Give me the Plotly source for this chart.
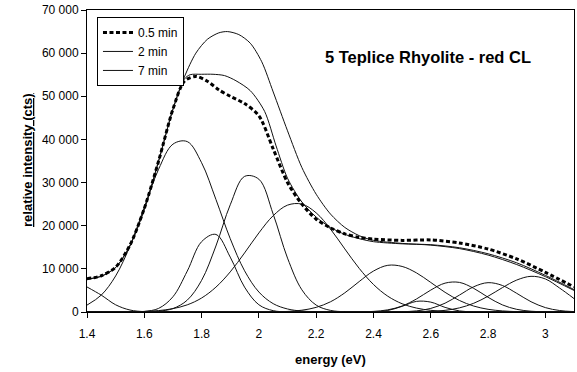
import plotly.graph_objects as go

# ---------------- data ----------------
energy_grid = [1.40, 1.45, 1.50, 1.55, 1.60, 1.65, 1.70, 1.75, 1.80, 1.85,
               1.90, 1.95, 2.00, 2.05, 2.10, 2.15, 2.20, 2.25, 2.30, 2.35,
               2.40, 2.45, 2.50, 2.55, 2.60, 2.65, 2.70, 2.75, 2.80, 2.85,
               2.90, 2.95, 3.00, 3.05, 3.10]

# measured spectra
e_05min = [1.40, 1.45, 1.50, 1.55, 1.60, 1.65, 1.70, 1.74, 1.78, 1.82, 1.86, 1.90,
           1.95, 2.00, 2.05, 2.10, 2.15, 2.20, 2.25, 2.30, 2.35, 2.40, 2.50, 2.60,
           2.70, 2.80, 2.90, 3.00, 3.10]
i_05min = [7700, 8400, 10400, 15500, 24000, 35000, 47000, 53500, 54600, 53500, 51500, 50000,
           48300, 45500, 37800, 30000, 25000, 21500, 19500, 18100, 17300, 16900, 16600, 16700,
           16000, 14600, 12300, 9200, 5800]

e_2min = [1.40, 1.45, 1.50, 1.55, 1.60, 1.65, 1.70, 1.74, 1.76, 1.80, 1.84, 1.88,
          1.92, 1.97, 2.02, 2.06, 2.10, 2.15, 2.20, 2.25, 2.30, 2.35, 2.40, 2.50,
          2.60, 2.70, 2.80, 2.90, 3.00, 3.10]
i_2min = [7600, 8300, 10300, 15400, 23800, 35000, 47000, 54000, 55000, 55100, 55100, 54800,
          53600, 51300, 46500, 38500, 31000, 25500, 22000, 19600, 18000, 17000, 16300, 15800,
          15600, 14900, 13500, 11400, 8500, 5200]

e_7min = [1.40, 1.45, 1.50, 1.55, 1.60, 1.65, 1.70, 1.74, 1.78, 1.82, 1.86, 1.89,
          1.93, 1.97, 2.01, 2.05, 2.10, 2.15, 2.20, 2.25, 2.30, 2.35, 2.40, 2.50,
          2.60, 2.70, 2.80, 2.90, 3.00, 3.10]
i_7min = [7600, 8300, 10300, 15400, 23800, 35000, 47000, 54500, 60000, 63200, 64700, 65000,
          64300, 62300, 58000, 51000, 42000, 33500, 27300, 22700, 19600, 17700, 16600, 15900,
          15500, 14700, 13200, 11000, 8200, 5000]

# fitted components (values on energy_grid)
comp_1 = [5800, 3900, 1670, 460, 80, 0, 0, 0, 0, 0, 0, 0, 0, 0, 0, 0, 0, 0, 0, 0,
          0, 0, 0, 0, 0, 0, 0, 0, 0, 0, 0, 0, 0, 0, 0]
comp_2 = [1600, 3930, 8360, 15300, 24300, 33100, 38900, 39500, 34600, 26100, 17000, 9560,
          4630, 1930, 700, 215, 60, 0, 0, 0, 0, 0, 0, 0, 0, 0, 0, 0, 0, 0, 0, 0, 0, 0, 0]
comp_3 = [0, 0, 0, 0, 130, 840, 3530, 9480, 16300, 17980, 12720, 5770, 1680, 310, 40, 0,
          0, 0, 0, 0, 0, 0, 0, 0, 0, 0, 0, 0, 0, 0, 0, 0, 0, 0, 0]
comp_4 = [0, 0, 0, 0, 30, 180, 800, 2750, 7330, 15300, 24850, 31430, 30780, 22670, 12490,
          5150, 1600, 370, 65, 0, 0, 0, 0, 0, 0, 0, 0, 0, 0, 0, 0, 0, 0, 0, 0]
comp_5 = [0, 0, 20, 50, 130, 330, 780, 1660, 3240, 5760, 9300, 13690, 18330, 22330, 24770,
          25010, 22980, 19210, 14620, 10130, 6380, 3660, 1910, 910, 390, 150, 60, 0, 0, 0,
          0, 0, 0, 0, 0]
comp_6 = [0, 0, 0, 0, 0, 0, 0, 0, 0, 0, 0, 0, 0, 0, 130, 415, 1075, 2370, 4440, 7050,
          9490, 10820, 10560, 9070, 6850, 4560, 2670, 1375, 625, 250, 90, 0, 0, 0, 0]
comp_7 = [0, 0, 0, 0, 0, 0, 0, 0, 0, 0, 0, 0, 0, 0, 0, 0, 0, 0, 0, 0,
          40, 350, 1310, 2460, 2290, 1070, 250, 30, 0, 0, 0, 0, 0, 0, 0]
comp_8 = [0, 0, 0, 0, 0, 0, 0, 0, 0, 0, 0, 0, 0, 0, 0, 0, 0, 0, 0, 30,
          140, 500, 1390, 3010, 5080, 6690, 6860, 5480, 3410, 1650, 620, 180, 40, 0, 0]
comp_9 = [0, 0, 0, 0, 0, 0, 0, 0, 0, 0, 0, 0, 0, 0, 0, 0, 0, 0, 0, 0,
          0, 10, 65, 260, 830, 2050, 3920, 5850, 6800, 6150, 4330, 2380, 1020, 340, 90]
comp_10 = [0, 0, 0, 0, 0, 0, 0, 0, 0, 0, 0, 0, 0, 0, 0, 0, 0, 0, 0, 0,
           0, 0, 0, 40, 130, 385, 955, 2025, 3660, 5640, 7400, 8270, 7660, 5540, 3110]
components = [comp_1, comp_2, comp_3, comp_4, comp_5, comp_6, comp_7, comp_8, comp_9, comp_10]

x_tick_vals = [1.4, 1.6, 1.8, 2.0, 2.2, 2.4, 2.6, 2.8, 3.0]
x_tick_text = ["1.4", "1.6", "1.8", "2", "2.2", "2.4", "2.6", "2.8", "3"]
y_tick_vals = [0, 10000, 20000, 30000, 40000, 50000, 60000, 70000]
y_tick_text = ["0", "10 000", "20 000", "30 000", "40 000", "50 000", "60 000", "70 000"]

# ---------------- figure ----------------
FONT = "Arial, Liberation Sans, Helvetica, sans-serif"
fig = go.Figure()

for comp in components:
    fig.add_trace(go.Scatter(x=energy_grid, y=comp, mode="lines", showlegend=False,
                             hoverinfo="skip",
                             line=dict(color="#111111", width=1, shape="spline", smoothing=1.0)))

fig.add_trace(go.Scatter(x=e_7min, y=i_7min, mode="lines", name="7 min",
                         line=dict(color="#111111", width=1, shape="spline", smoothing=0.8)))
fig.add_trace(go.Scatter(x=e_2min, y=i_2min, mode="lines", name="2 min",
                         line=dict(color="#111111", width=1, shape="spline", smoothing=0.8)))
fig.add_trace(go.Scatter(x=e_05min, y=i_05min, mode="lines", name="0.5 min",
                         line=dict(color="#000000", width=3, dash="4px,2.5px",
                                   shape="spline", smoothing=0.8)))

fig.update_layout(
    width=577, height=372,
    margin=dict(l=87, r=3, t=10, b=60),
    paper_bgcolor="white", plot_bgcolor="white",
    font=dict(family=FONT, size=12, color="black"),
    showlegend=True,
    legend=dict(x=0.0205, y=0.977, xanchor="left", yanchor="top",
                bgcolor="white", bordercolor="black", borderwidth=1,
                font=dict(family=FONT, size=12, color="black"),
                traceorder="reversed", tracegroupgap=0, itemwidth=30),
    xaxis=dict(range=[1.4, 3.1], tickvals=x_tick_vals, ticktext=x_tick_text,
               showgrid=False, zeroline=False, showline=True, linecolor="black",
               linewidth=1, mirror=True, ticks="outside", ticklen=5, tickcolor="black",
               ticklabelstandoff=6, tickfont=dict(family=FONT, size=12, color="black")),
    yaxis=dict(range=[0, 70000], tickvals=y_tick_vals, ticktext=y_tick_text,
               showgrid=False, zeroline=False, showline=True, linecolor="black",
               linewidth=1, mirror=True, ticks="outside", ticklen=5, tickcolor="black",
               tickfont=dict(family=FONT, size=12, color="black")),
    annotations=[
        dict(text="<b>5 Teplice Rhyolite - red CL</b>", xref="paper", yref="paper",
             x=(323 - 87) / 487, y=(312 - 57) / 302, xanchor="left", yanchor="middle",
             showarrow=False, font=dict(family=FONT, size=16.5, color="black")),
        dict(text="<b>energy (eV)</b>", xref="paper", yref="paper",
             x=0.5, y=(312 - 359) / 302, xanchor="center", yanchor="middle",
             showarrow=False, font=dict(family=FONT, size=13, color="black")),
        dict(text="<b><u>relative intensity (cts)</u></b>", xref="paper", yref="paper",
             x=(27 - 87) / 487, y=(312 - 160) / 302, xanchor="center", yanchor="middle",
             textangle=-90, showarrow=False,
             font=dict(family=FONT, size=13, color="black")),
    ],
)

fig.write_html(
    "out.html",
    config={"displayModeBar": False},
    post_script="document.body.style.margin='0px';document.body.style.padding='0px';"
                "document.body.style.overflow='hidden';",
)
